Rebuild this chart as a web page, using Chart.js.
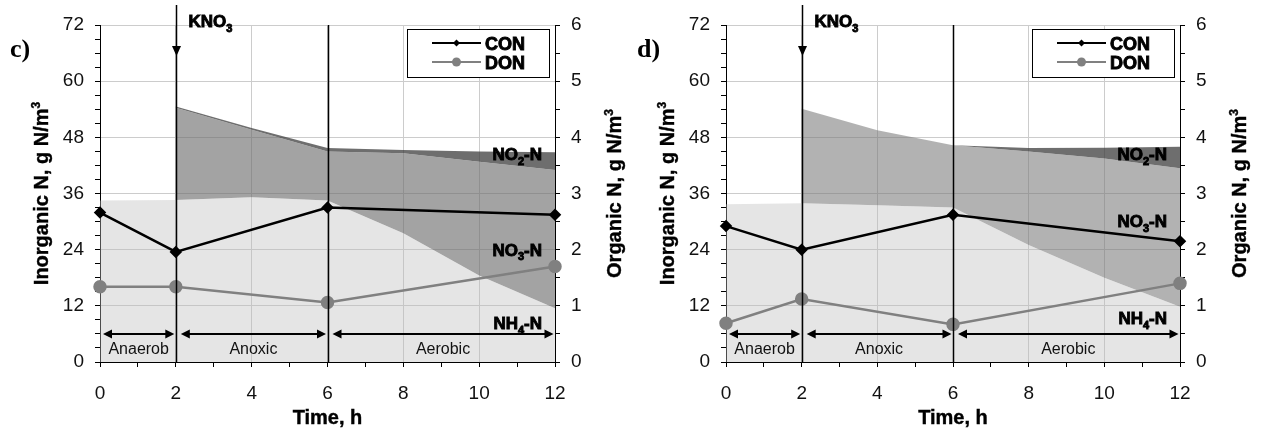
<!DOCTYPE html>
<html>
<head>
<meta charset="utf-8">
<script src="https://cdn.jsdelivr.net/npm/chart.js@4.4.1/dist/chart.umd.min.js"></script>
<style>
  body { margin: 0; background: #fff; width: 1261px; height: 434px; overflow: hidden; position: relative; }
  .panel { position: absolute; top: 0; height: 434px; }
</style>
</head>
<body>
<div class="panel" style="left:0;width:630px"><canvas id="chartC" width="630" height="434"></canvas></div>
<div class="panel" style="left:630px;width:631px"><canvas id="chartD" width="631" height="434"></canvas></div>
<script>
// time axis for the stacked inorganic N areas (2 h appears twice: before / after the KNO3 dose)
const hours = [0, 2, 2, 4, 6, 8, 10, 12];

// panel c) inorganic N, g N/m3
const cNH4 = [34.5, 34.6, 34.6, 35.2, 34.5, 27.5, 18.5, 11.5];
const cNO3 = [0, 0, 19.7, 14.4, 10.5, 17.1, 24.3, 29.5];
const cNO2 = [0, 0, 0.3, 0.4, 0.7, 0.7, 2.2, 3.8];

// panel d) inorganic N, g N/m3
const dNH4 = [33.7, 33.9, 33.9, 33.5, 33.0, 25.0, 18.0, 11.8];
const dNO3 = [0, 0, 20.2, 16.0, 13.3, 20.0, 25.5, 29.6];
const dNO2 = [0, 0, 0, 0, 0, 0.7, 2.3, 4.6];

// organic N, g N/m3 (right axis)
const sampleHours = [0, 2, 6, 12];
const cCON = [2.66, 1.96, 2.75, 2.62];
const cDON = [1.34, 1.34, 1.06, 1.70];
const dCON = [2.42, 2.00, 2.62, 2.15];
const dDON = [0.69, 1.12, 0.67, 1.40];

const phaseBounds = [0, 2, 6, 12];
const phaseNames = ["Anaerob", "Anoxic", "Aerobic"];
const doseHour = 2;

const FONT = 'Arial, "Liberation Sans", sans-serif';

function pts(xs, ys) {
  return xs.map((x, i) => ({ x: x, y: ys[i] }));
}
function cumulate(...layers) {
  return layers[0].map((_, i) => layers.reduce((s, l) => s + l[i], 0));
}

// bold text with sub/superscripts: parts = [[text, 0 normal | 1 sub | 2 sup]]
function drawRich(ctx, parts, x, baseY, size, align, heavy) {
  const small = Math.round(size * 0.62);
  let total = 0;
  const widths = parts.map(p => {
    ctx.font = "bold " + (p[1] ? small : size) + "px " + FONT;
    const w = ctx.measureText(p[0]).width;
    total += w;
    return w;
  });
  let cx = align === "right" ? x - total : align === "center" ? x - total / 2 : x;
  ctx.textAlign = "left";
  ctx.textBaseline = "alphabetic";
  ctx.lineWidth = heavy || 0;
  ctx.strokeStyle = ctx.fillStyle;
  parts.forEach((p, i) => {
    ctx.font = "bold " + (p[1] ? small : size) + "px " + FONT;
    const dy = p[1] === 1 ? size * 0.28 : p[1] === 2 ? -size * 0.42 : 0;
    ctx.fillText(p[0], cx, baseY + dy);
    if (heavy) ctx.strokeText(p[0], cx, baseY + dy);
    cx += widths[i];
  });
}

function arrowHead(ctx, x, y, dir, len, half) {
  ctx.beginPath();
  if (dir === "down") {
    ctx.moveTo(x, y); ctx.lineTo(x - half, y - len); ctx.lineTo(x + half, y - len);
  } else if (dir === "left") {
    ctx.moveTo(x, y); ctx.lineTo(x + len, y - half); ctx.lineTo(x + len, y + half);
  } else {
    ctx.moveTo(x, y); ctx.lineTo(x - len, y - half); ctx.lineTo(x - len, y + half);
  }
  ctx.closePath();
  ctx.fill();
}

function makePanel(id, opt) {
  const decor = {
    id: "decor",
    afterDraw(chart) {
      const ctx = chart.ctx;
      const xs = chart.scales.x, ys = chart.scales.y;
      const area = chart.chartArea;
      ctx.save();
      ctx.fillStyle = "#000";
      ctx.strokeStyle = "#000";

      // phase boundaries + KNO3 dose arrow
      ctx.lineWidth = 1.5;
      [2, 6].forEach(h => {
        const px = Math.round(xs.getPixelForValue(h)) + 0.5;
        ctx.beginPath();
        ctx.moveTo(px, h === doseHour ? 5 : area.top);
        ctx.lineTo(px, area.bottom);
        ctx.stroke();
      });
      const dx = Math.round(xs.getPixelForValue(doseHour)) + 0.5;
      arrowHead(ctx, dx, 56, "down", 10, 4.5);
      drawRich(ctx, [["KNO", 0], ["3", 1]], dx + 12, 27, 17, "left", 0.9);

      // phase double arrows
      const ay = ys.getPixelForValue(6);
      for (let i = 0; i < phaseNames.length; i++) {
        const x1 = xs.getPixelForValue(phaseBounds[i]) + (i === 0 ? 3 : 5);
        const x2 = xs.getPixelForValue(phaseBounds[i + 1]) - 1.5;
        ctx.lineWidth = 2;
        ctx.strokeStyle = "#000";
        ctx.beginPath();
        ctx.moveTo(x1 + 6, ay); ctx.lineTo(x2 - 6, ay);
        ctx.stroke();
        arrowHead(ctx, x1, ay, "left", 9, 4.5);
        arrowHead(ctx, x2, ay, "right", 9, 4.5);
        ctx.font = "16px " + FONT;
        ctx.textAlign = "center";
        ctx.textBaseline = "alphabetic";
        ctx.fillStyle = "#111";
        ctx.fillText(phaseNames[i], (x1 + x2) / 2, ys.getPixelForValue(3) + 6);
        ctx.fillStyle = "#000";
      }

      // species labels
      const lx = area.right - 13;
      drawRich(ctx, [["NO", 0], ["2", 1], ["-N", 0]], lx, ys.getPixelForValue(opt.lblNO2) + 6.5, 17, "right", 0.9);
      drawRich(ctx, [["NO", 0], ["3", 1], ["-N", 0]], lx, ys.getPixelForValue(opt.lblNO3) + 6.5, 17, "right", 0.9);
      drawRich(ctx, [["NH", 0], ["4", 1], ["-N", 0]], lx, ys.getPixelForValue(opt.lblNH4) + 6.5, 17, "right", 0.9);

      // legend box
      const bl = area.right - 148, bt = area.top + 4;
      ctx.fillStyle = "#fff";
      ctx.fillRect(bl, bt, 142, 48);
      ctx.lineWidth = 1;
      ctx.strokeStyle = "#000";
      ctx.strokeRect(bl + 0.5, bt + 0.5, 142, 48);
      [["CON", "#000", 14, "rectRot"], ["DON", "#808080", 33, "circle"]].forEach(e => {
        const y = bt + e[2];
        ctx.strokeStyle = e[1];
        ctx.fillStyle = e[1];
        ctx.lineWidth = 2;
        ctx.beginPath();
        ctx.moveTo(bl + 25, y); ctx.lineTo(bl + 74, y);
        ctx.stroke();
        ctx.beginPath();
        if (e[3] === "circle") {
          ctx.arc(bl + 49.5, y, 4.5, 0, Math.PI * 2);
        } else {
          ctx.moveTo(bl + 49.5, y - 3.5); ctx.lineTo(bl + 53, y);
          ctx.lineTo(bl + 49.5, y + 3.5); ctx.lineTo(bl + 46, y);
        }
        ctx.fill();
        ctx.fillStyle = "#000";
        drawRich(ctx, [[e[0], 0]], bl + 78, y + 6.5, 18, "left", 0.9);
      });

      // axis titles
      ctx.fillStyle = "#000";
      const cy = (area.top + area.bottom) / 2;
      ctx.save();
      ctx.translate(opt.leftTitleX, cy);
      ctx.rotate(-Math.PI / 2);
      drawRich(ctx, [["Inorganic N, g N/m", 0], ["3", 2]], 0, 7, 20, "center", 0.4);
      ctx.restore();
      ctx.save();
      ctx.translate(area.right + 59, cy);
      ctx.rotate(-Math.PI / 2);
      drawRich(ctx, [["Organic N, g N/m", 0], ["3", 2]], 0, 7, 20, "center", 0.4);
      ctx.restore();
      drawRich(ctx, [["Time, h", 0]], (area.left + area.right) / 2, 424, 20, "center", 0.4);

      // panel letter
      ctx.font = "bold 26px \"Liberation Serif\", \"Times New Roman\", serif";
      ctx.textAlign = "left";
      ctx.textBaseline = "alphabetic";
      ctx.fillText(opt.letter, opt.letterX, 57);
      ctx.restore();
    }
  };

  const lowTop = opt.nh4;
  const midTop = cumulate(opt.nh4, opt.no3);
  const highTop = cumulate(opt.nh4, opt.no3, opt.no2);
  const area = (data, color, fill) => ({
    data: pts(hours, data), yAxisID: "y", fill: fill, backgroundColor: color,
    borderWidth: 0, borderColor: "transparent", pointRadius: 0, tension: 0, order: 5
  });

  const gridStyle = (keep, color) => ({
    color: c => keep(c.tick.value) ? color : "transparent",
    tickColor: "#000", tickLength: 5, lineWidth: 1
  });
  const tickFont = { family: FONT, size: 19 };

  return new Chart(document.getElementById(id), {
    type: "line",
    data: {
      datasets: [
        area(lowTop, "rgba(190,190,190,0.40)", "origin"),
        area(midTop, opt.no3Color, "-1"),
        area(highTop, "rgba(60,60,60,0.74)", "-1"),
        {
          label: "CON", data: pts(sampleHours, opt.con), yAxisID: "y1",
          borderColor: "#000", backgroundColor: "#000", borderWidth: 2.5,
          pointStyle: "rectRot", pointRadius: 4.5, fill: false, order: 0, clip: false
        },
        {
          label: "DON", data: pts(sampleHours, opt.don), yAxisID: "y1",
          borderColor: "#808080", backgroundColor: "#808080", borderWidth: 2.5,
          pointStyle: "circle", pointRadius: 5.5, fill: false, order: 0, clip: false
        }
      ]
    },
    options: {
      responsive: false,
      animation: false,
      layout: { padding: { top: 25, left: 0, right: 0, bottom: 0 } },
      plugins: { legend: { display: false }, tooltip: { enabled: false } },
      scales: {
        x: {
          type: "linear", min: 0, max: 12,
          ticks: {
            stepSize: 1, autoSkip: false, maxRotation: 0, padding: 15,
            color: "#111", font: tickFont,
            callback: v => v % 2 === 0 ? v : ""
          },
          grid: gridStyle(v => v % 2 === 0, "#cccccc"),
          border: { color: "#000", width: 1 },
          afterFit: s => { s.height = 72; }
        },
        y: {
          position: "left", min: 0, max: 72,
          ticks: {
            stepSize: 3, autoSkip: false, padding: 11, color: "#111", font: tickFont,
            callback: v => v % 12 === 0 ? v : ""
          },
          grid: gridStyle(v => v % 12 === 0, "#cccccc"),
          border: { color: "#000", width: 1 },
          afterFit: s => { s.width = opt.leftW; }
        },
        y1: {
          position: "right", min: 0, max: 6,
          ticks: {
            stepSize: 0.5, autoSkip: false, padding: 11, color: "#111", font: tickFont,
            callback: v => Number.isInteger(v) ? v : ""
          },
          grid: { drawOnChartArea: false, tickColor: "#000", tickLength: 5 },
          border: { color: "#000", width: 1 },
          afterFit: s => { s.width = opt.rightW; }
        }
      }
    },
    plugins: [decor]
  });
}

makePanel("chartC", {
  nh4: cNH4, no3: cNO3, no2: cNO2, con: cCON, don: cDON,
  no3Color: "rgba(110,110,110,0.63)",
  lblNO2: 44.5, lblNO3: 24.1, lblNH4: 8.4,
  leftW: 100, rightW: 75, leftTitleX: 41, letter: "c)", letterX: 10
});
makePanel("chartD", {
  nh4: dNH4, no3: dNO3, no2: dNO2, con: dCON, don: dDON,
  no3Color: "rgba(120,120,120,0.57)",
  lblNO2: 44.6, lblNO3: 30.2, lblNH4: 9.5,
  leftW: 96, rightW: 81, leftTitleX: 37, letter: "d)", letterX: 7
});
</script>
</body>
</html>
